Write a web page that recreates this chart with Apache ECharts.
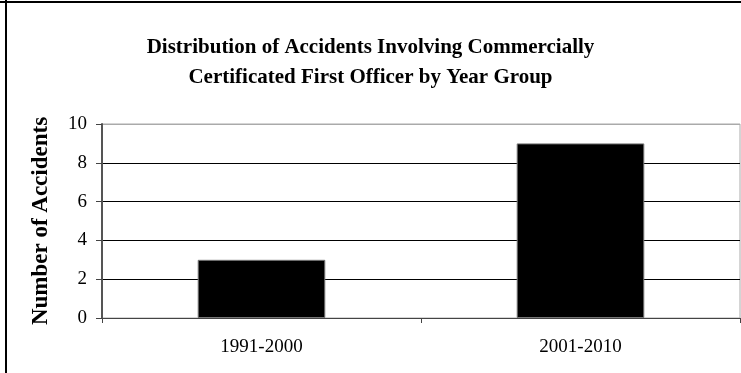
<!DOCTYPE html>
<html>
<head>
<meta charset="utf-8">
<script src="https://cdn.jsdelivr.net/npm/echarts@6/dist/echarts.min.js"></script>
<style>html,body{margin:0;padding:0;background:#fff;}#c{width:741px;height:373px;}</style>
</head>
<body>
<div id="c"></div>
<script>
const categories = ['1991-2000', '2001-2010'];
const accidents = [3, 9];
const yTicks = [0, 2, 4, 6, 8, 10];
const titleText = 'Distribution of Accidents Involving Commercially\nCertificated First Officer by Year Group';
const yAxisTitle = 'Number of Accidents';

const chart = echarts.init(document.getElementById('c'), null, {renderer: 'canvas'});
const serif = 'Liberation Serif, Times New Roman, serif';
chart.setOption({
  animation: false,
  backgroundColor: '#fff',
  title: {
    text: titleText,
    left: 'center', top: 28,
    textStyle: {fontFamily: serif, fontWeight: 'bold', fontSize: 21, lineHeight: 30, color: '#000'}
  },
  graphic: [
    {type: 'line', shape: {x1: 6, y1: 0, x2: 6, y2: 373}, style: {stroke: '#000', lineWidth: 2}, silent: true},
    {type: 'line', shape: {x1: 0, y1: 2, x2: 741, y2: 2}, style: {stroke: '#000', lineWidth: 2}, silent: true}
  ],
  grid: {left: 102, right: 1, top: 124, bottom: 55, show: true, borderColor: '#aaa', borderWidth: 1, containLabel: false},
  xAxis: {
    type: 'category', data: categories,
    axisLine: {lineStyle: {color: '#444', width: 1}},
    axisTick: {show: true, inside: false, length: 5, alignWithLabel: false, lineStyle: {color: '#444'}},
    axisLabel: {fontFamily: serif, fontSize: 19, color: '#000', margin: 20},
    splitLine: {show: false}
  },
  yAxis: {
    type: 'value', min: yTicks[0], max: yTicks[yTicks.length - 1], interval: 2,
    name: yAxisTitle, nameLocation: 'middle', nameGap: 49,
    nameTextStyle: {fontFamily: serif, fontWeight: 'bold', fontSize: 23, color: '#000'},
    axisLine: {show: true, lineStyle: {color: '#555', width: 2}},
    axisTick: {show: true, length: 6, lineStyle: {color: '#444'}},
    axisLabel: {fontFamily: serif, fontSize: 19, color: '#000', margin: 15},
    splitLine: {show: true, lineStyle: {color: ['#000', '#000', '#000', '#000', '#000', '#aaa'], width: 1}}
  },
  series: [{
    type: 'bar', data: accidents, barWidth: '40%',
    itemStyle: {color: '#000', borderColor: '#777', borderWidth: 1}
  }]
});
</script>
</body>
</html>
